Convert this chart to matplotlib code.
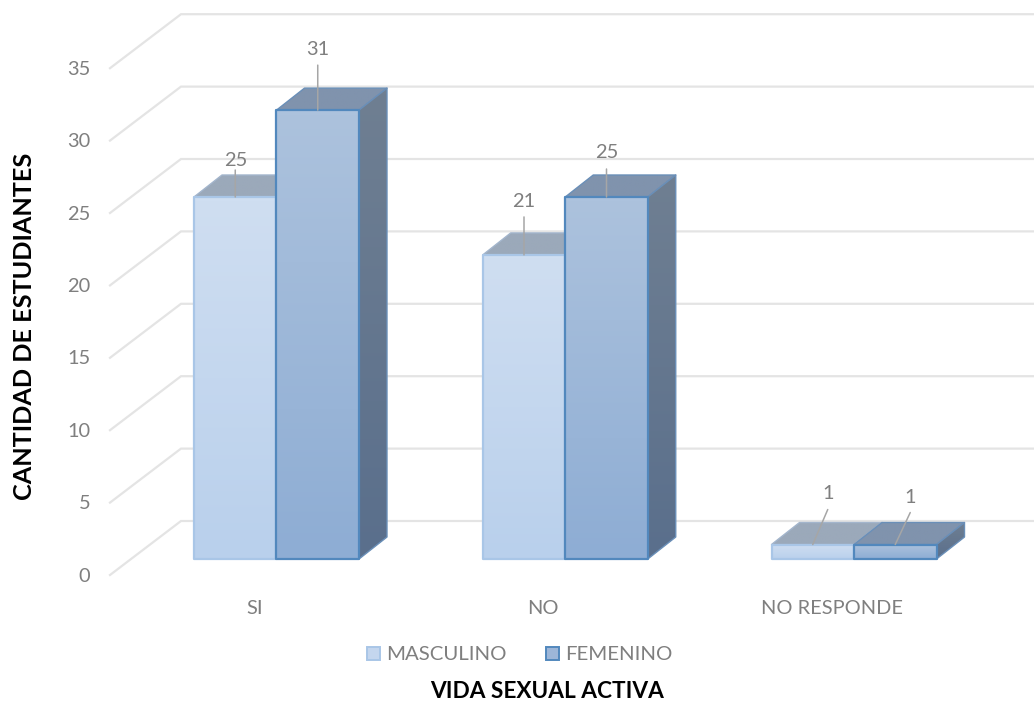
import matplotlib
matplotlib.use("Agg")
import matplotlib.pyplot as plt
import numpy as np
from matplotlib.colors import LinearSegmentedColormap
from matplotlib.patches import Polygon, Patch

plt.rcParams['font.family'] = ['Lato', 'DejaVu Sans']

categories = ["SI", "NO", "NO RESPONDE"]
masculino = [25, 21, 1]
femenino = [31, 25, 1]
y_ticks = [0, 5, 10, 15, 20, 25, 30, 35]
series_names = ["MASCULINO", "FEMENINO"]

GRAY = "#7F7F7F"
GRID = "#E4E4E4"
W, H = 1034, 704
PX_X = 288.75        # pixels per category
PX_Y = 14.48         # pixels per unit of value
BAR_W = 82.5 / PX_X
DX, DY = 28 / PX_X, 22 / PX_Y
WALL_X0, WALL_X1 = (110 - 276.5) / PX_X, (181 - 276.5) / PX_X
WALL_Y0, WALL_Y1 = -16 / PX_Y, 38 / PX_Y

STYLE = {
    "masc": dict(front=("#CFDEF1", "#B9D0EC"), top=("#9BA9BA", "#9BA9BA"),
                 side=("#8E9DB0", "#7F90A8"), edge="#A9C6E7", back_edge="#A3B5CC"),
    "fem": dict(front=("#ACC2DD", "#8EADD4"), top=("#8093AD", "#8093AD"),
                side=("#6F7F92", "#5A6F8C"), edge="#5288BD", back_edge="#6A8FB8"),
}

fig = plt.figure(figsize=(W / 100, H / 100), dpi=100)
ax = fig.add_axes([0, 0, 1, 1])
XLIM = (-276.5 / PX_X, (W - 276.5) / PX_X)
YLIM = ((559 - H) / PX_Y, 559 / PX_Y)
ax.axis("off")


def shaded(verts, colors, edge, z, lw=1.0):
    """Fill a polygon with a vertical two-colour gradient and stroke its outline."""
    verts = np.asarray(verts)
    cmap = LinearSegmentedColormap.from_list("face", [colors[1], colors[0]])
    grad = np.linspace(0, 1, 64).reshape(-1, 1)
    extent = (verts[:, 0].min(), verts[:, 0].max(), verts[:, 1].min(), verts[:, 1].max())
    im = ax.imshow(grad, origin="lower", extent=extent, cmap=cmap, aspect="auto",
                   zorder=z, interpolation="bilinear")
    clip = Polygon(verts, closed=True, transform=ax.transData)
    im.set_clip_path(clip)
    ax.add_patch(Polygon(verts, closed=True, fill=False, edgecolor=edge, lw=lw,
                         joinstyle="round", zorder=z + 0.1))


def bar3d(x0, value, style, z):
    x1 = x0 + BAR_W
    s = STYLE[style]
    shaded([(x0, value), (x1, value), (x1 + DX, value + DY), (x0 + DX, value + DY)],
           s["top"], s["back_edge"], z)
    shaded([(x1, 0), (x1 + DX, DY), (x1 + DX, value + DY), (x1, value)],
           s["side"], s["back_edge"], z + 0.2)
    shaded([(x0, 0), (x1, 0), (x1, value), (x0, value)],
           s["front"], s["edge"], z + 0.4, lw=1.6)


# Back wall and side wall gridlines
for v in y_ticks:
    ax.plot([WALL_X0, WALL_X1, XLIM[1]], [v + WALL_Y0, v + WALL_Y1, v + WALL_Y1],
            color=GRID, lw=1.6, solid_joinstyle="miter", zorder=1)
    ax.text(-186 / PX_X, v - 17 / PX_Y, str(v), ha="right", va="center",
            color=GRAY, fontsize=14.4)

# Bars, with the lighter series behind the darker one
centers = np.arange(len(categories))
for i, c in enumerate(centers):
    bar3d(c - BAR_W, masculino[i], "masc", 2 + i)
    bar3d(c, femenino[i], "fem", 2.5 + i)

# Value labels with leader lines: (dx, line rise, text rise) in pixels
masc_leaders = [(0, 27, 36), (0, 38, 53), (15, 35, 51)]
fem_leaders = [(0, 45, 61), (0, 28, 44), (15, 32, 47)]
for vals, leaders, shift in ((masculino, masc_leaders, -BAR_W / 2),
                             (femenino, fem_leaders, BAR_W / 2)):
    for c, v, (dx, rise, trise) in zip(centers, vals, leaders):
        xb = c + shift
        ax.annotate("", xy=(xb, v), xytext=(dx, rise), textcoords="offset pixels",
                    arrowprops=dict(arrowstyle="-", color="#A6A6A6", lw=1.1,
                                    shrinkA=0, shrinkB=0), zorder=10)
        ax.annotate(str(v), xy=(xb, v), xytext=(dx, trise), textcoords="offset pixels",
                    ha="center", va="center", color=GRAY, fontsize=14.4, zorder=10)

# Category labels
for c, name in zip(centers, categories):
    ax.text(c - 22 / PX_X, -49 / PX_Y, name, ha="center", va="center",
            color=GRAY, fontsize=14.4)

# Legend
handles = [Patch(facecolor="#C4D6EE", edgecolor="#A9C6E7", lw=1.4),
           Patch(facecolor="#9DB6D8", edgecolor="#5288BD", lw=1.4)]
ax.legend(handles, series_names, ncol=2, loc="center",
          bbox_to_anchor=(520 / W, 1 - 655 / H), frameon=False,
          fontsize=14.7, labelcolor=GRAY, handlelength=0.6, handleheight=0.6,
          handletextpad=0.32, columnspacing=1.95,
          bbox_transform=fig.transFigure)

# Axis titles
fig.text(547 / W, 1 - 692 / H, "VIDA SEXUAL ACTIVA", ha="center", va="center",
         fontsize=16.3, fontweight="bold", color="black")
fig.text(25 / W, 1 - 326 / H, "CANTIDAD DE ESTUDIANTES", ha="center", va="center",
         rotation=90, fontsize=18.2, fontweight="bold", color="black")

ax.set_xlim(*XLIM)
ax.set_ylim(*YLIM)
fig.savefig("out.png", dpi=100)
